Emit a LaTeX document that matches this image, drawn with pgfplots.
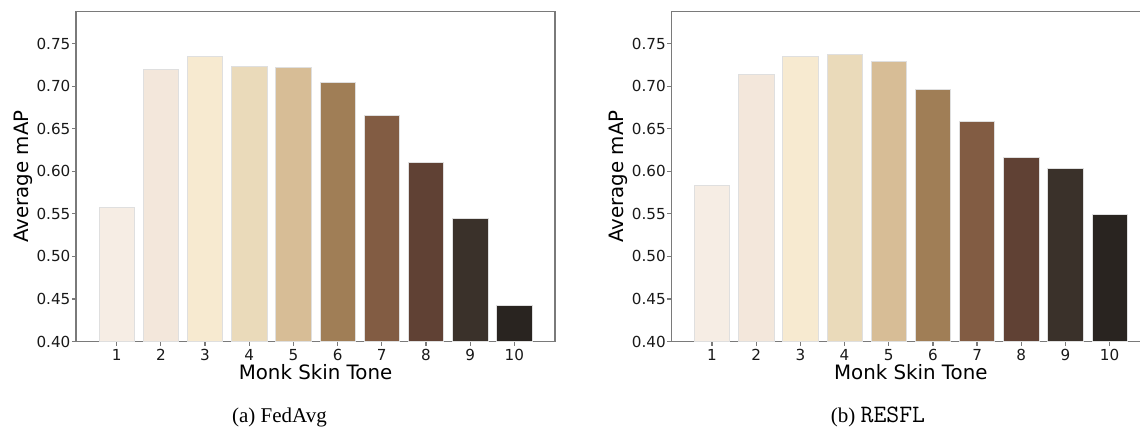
\documentclass[border=0pt]{standalone}
\usepackage{pgfplots}
\pgfplotsset{compat=1.18}
\usepackage{fontspec}
\setmainfont{DejaVu Sans}
\newfontfamily\timesf{Liberation Serif}
\definecolor{m1}{HTML}{F6EDE4}
\definecolor{m2}{HTML}{F3E7DB}
\definecolor{m3}{HTML}{F7EAD0}
\definecolor{m4}{HTML}{EADABA}
\definecolor{m5}{HTML}{D7BD96}
\definecolor{m6}{HTML}{A07E56}
\definecolor{m7}{HTML}{825C43}
\definecolor{m8}{HTML}{604134}
\definecolor{m9}{HTML}{3A312A}
\definecolor{m10}{HTML}{292420}
\definecolor{spine}{HTML}{7A7A7A}
\pgfplotsset{
  mskin/.style={
    scale only axis, width=239.5pt, height=164.9pt,
    xmin=0.08, xmax=10.92, ymin=0.4, ymax=0.7876,
    xtick={1,2,3,4,5,6,7,8,9,10},
    ytick={0.40,0.45,0.50,0.55,0.60,0.65,0.70,0.75},
    /pgf/number format/assume math mode=true,
    yticklabel style={/pgf/number format/fixed, /pgf/number format/fixed zerofill, /pgf/number format/precision=2},
    tick label style={font=\fontsize{7.6}{8.6}\selectfont, color=black!90},
    xticklabel style={anchor=base, yshift=-7.5pt},
    yticklabel style={anchor=east, inner sep=0pt, xshift=-0.6pt},
    axis line style={spine, line width=0.6pt},
    tick style={spine, line width=0.6pt},
    tick align=outside, major tick length=2pt,
    xtick pos=bottom, ytick pos=left,
    xlabel={Monk Skin Tone}, ylabel={Average mAP},
    every axis x label/.style={at={(rel axis cs:0.5,0)}, anchor=base, yshift=-18.9pt, font=\fontsize{9.9}{11}\selectfont},
    every axis y label/.style={at={(axis description cs:-0.0994,0.5)}, anchor=base, rotate=90, font=\fontsize{9.9}{11}\selectfont},
    every axis plot/.append style={ybar, bar width=0.8, bar shift=0pt, draw=white!75!gray, line width=0.3pt},
  }
}
\begin{document}
\begin{tikzpicture}
\path[use as bounding box] (0,0) rectangle (570pt,-213.5pt);
\clip (0,0) rectangle (570pt,-213.5pt);
\begin{axis}[mskin, at={(38pt,-170.75pt)}, anchor=south west]
\addplot[fill=m1] coordinates {(1,0.558)};
\addplot[fill=m2] coordinates {(2,0.720)};
\addplot[fill=m3] coordinates {(3,0.735)};
\addplot[fill=m4] coordinates {(4,0.723)};
\addplot[fill=m5] coordinates {(5,0.722)};
\addplot[fill=m6] coordinates {(6,0.705)};
\addplot[fill=m7] coordinates {(7,0.666)};
\addplot[fill=m8] coordinates {(8,0.611)};
\addplot[fill=m9] coordinates {(9,0.545)};
\addplot[fill=m10] coordinates {(10,0.443)};
\end{axis}
\begin{axis}[mskin, at={(335.65pt,-170.75pt)}, anchor=south west]
\addplot[fill=m1] coordinates {(1,0.584)};
\addplot[fill=m2] coordinates {(2,0.714)};
\addplot[fill=m3] coordinates {(3,0.735)};
\addplot[fill=m4] coordinates {(4,0.737)};
\addplot[fill=m5] coordinates {(5,0.729)};
\addplot[fill=m6] coordinates {(6,0.696)};
\addplot[fill=m7] coordinates {(7,0.659)};
\addplot[fill=m8] coordinates {(8,0.616)};
\addplot[fill=m9] coordinates {(9,0.604)};
\addplot[fill=m10] coordinates {(10,0.549)};
\end{axis}
\node[anchor=base, inner sep=0pt, font=\timesf\fontsize{10.5}{12}\selectfont] at (139.75pt,-211.3pt) {(a) FedAvg};
\node[anchor=base, inner sep=0pt, font=\timesf\fontsize{10.5}{12}\selectfont] at (439pt,-211.3pt) {(b) \ttfamily\fontsize{12.5}{13}\selectfont RESFL};
\end{tikzpicture}
\end{document}
